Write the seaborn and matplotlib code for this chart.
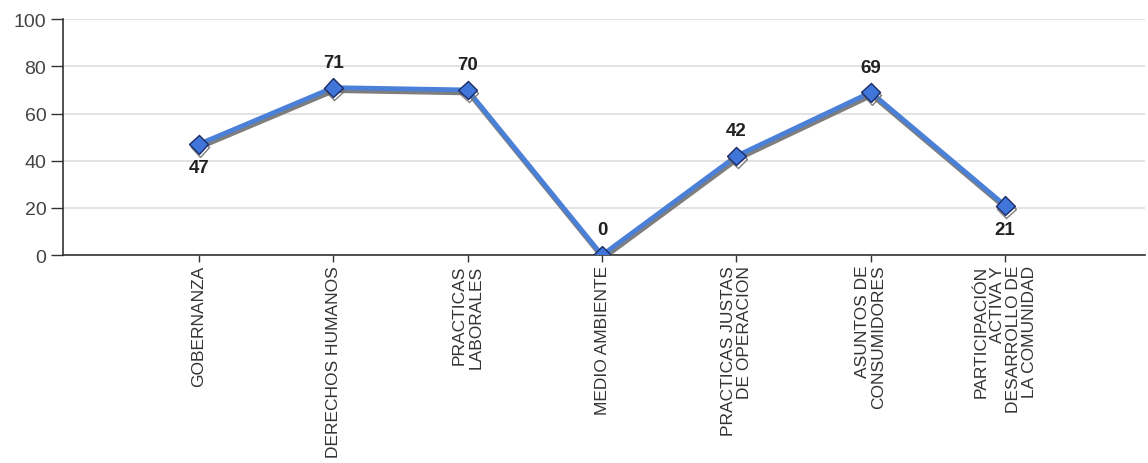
import matplotlib
matplotlib.use("Agg")
import matplotlib.pyplot as plt
import matplotlib.patheffects as pe
import seaborn as sns
import pandas as pd

categories = ["GOBERNANZA", "DERECHOS HUMANOS", "PRACTICAS\nLABORALES", "MEDIO AMBIENTE",
              "PRACTICAS JUSTAS\nDE OPERACION", "ASUNTOS DE\nCONSUMIDORES",
              "PARTICIPACIÓN\nACTIVA Y\nDESARROLLO DE\nLA COMUNIDAD"]
values = [47, 71, 70, 0, 42, 69, 21]
label_pos = ["below", "above", "above", "above", "above", "above", "below"]
y_ticks = [0, 20, 40, 60, 80, 100]

sns.set_theme(style="white")
plt.rcParams['font.family'] = ['Liberation Sans', 'DejaVu Sans']

df = pd.DataFrame({"x": range(len(categories)), "y": values})

fig = plt.figure(figsize=(11.48, 4.64), dpi=100)
ax = fig.add_axes([0.0549, 0.448, 0.9425, 0.5086])

sns.lineplot(data=df, x="x", y="y", ax=ax, color="#4a80d8", linewidth=3.4,
             marker="D", markersize=9.5, markerfacecolor="#4076da",
             markeredgecolor="#1c2b66", markeredgewidth=1.0, zorder=5,
             path_effects=[pe.SimpleLineShadow(offset=(0.8, -2.2), shadow_color="#707070", alpha=0.9),
                           pe.Normal()])

for i, (v, pos) in enumerate(zip(values, label_pos)):
    if pos == "above":
        ax.annotate(str(v), (i, v), xytext=(0, 12), textcoords="offset points",
                    ha="center", va="bottom", fontsize=13.5, fontweight="bold", color="#222222")
    else:
        ax.annotate(str(v), (i, v), xytext=(0, -11), textcoords="offset points",
                    ha="center", va="top", fontsize=13.5, fontweight="bold", color="#222222")

ax.set_xlim(-1.01, 7.04)
ax.set_ylim(0, 100)
ax.set_yticks(y_ticks)
ax.set_yticklabels([str(t) for t in y_ticks], fontsize=14, color="#444444")
ax.set_xticks(range(len(categories)))
ax.set_xticklabels(categories, rotation=90, fontsize=12.5, color="#333333",
                   ha="center", va="top", multialignment="right", linespacing=1.1)
ax.set_xlabel("")
ax.set_ylabel("")
ax.yaxis.grid(True, color="#dedede", linewidth=1.2)
ax.set_axisbelow(True)
for s in ["top", "right"]:
    ax.spines[s].set_visible(False)
ax.spines["left"].set_color("#333333")
ax.spines["bottom"].set_color("#333333")
ax.spines["left"].set_linewidth(1.2)
ax.spines["bottom"].set_linewidth(1.2)
ax.tick_params(axis="y", direction="out", length=9, width=1, color="#333333", left=True, pad=3)
ax.tick_params(axis="x", direction="out", length=5, width=1, color="#333333", bottom=True, pad=2)

fig.savefig("out.png", dpi=100, facecolor="white")
